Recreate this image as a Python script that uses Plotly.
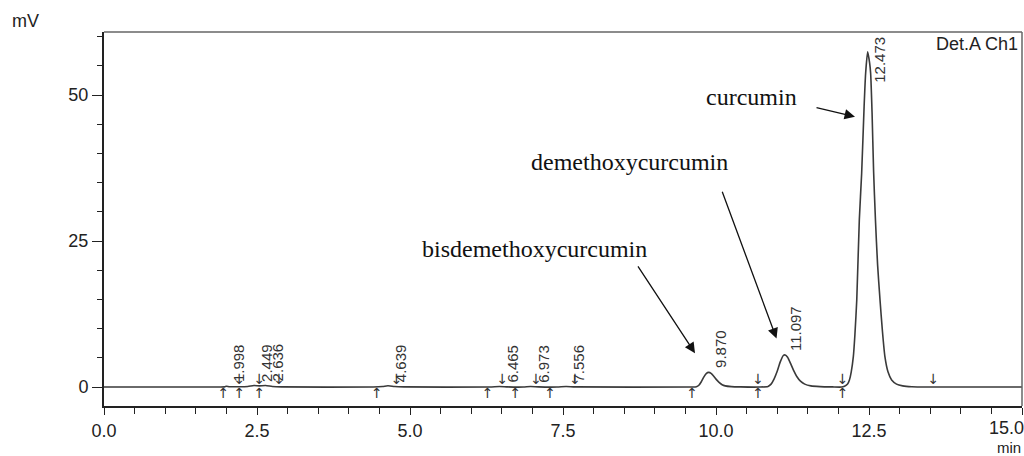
import plotly.graph_objects as go

# ---- chromatogram signal ----
time_min = [0.0, 1.90, 1.97, 2.00, 2.05, 2.20, 2.35, 2.45, 2.54, 2.64, 2.75, 2.90,
            4.40, 4.55, 4.64, 4.75, 4.90, 6.30, 6.46, 6.60, 6.85, 6.97, 7.10, 7.40,
            7.55, 7.70, 9.60, 9.68, 9.72, 9.76, 9.80, 9.84, 9.88, 9.92, 9.96, 10.00,
            10.05, 10.10, 10.15, 10.25, 10.40, 10.70, 10.85, 10.90, 10.95, 11.00,
            11.05, 11.10, 11.13, 11.17, 11.22, 11.27, 11.32, 11.38, 11.45, 11.55,
            11.70, 11.90, 12.05, 12.10, 12.15, 12.18, 12.21, 12.244, 12.27, 12.30,
            12.342, 12.38, 12.42, 12.445, 12.478, 12.51, 12.527, 12.55, 12.575,
            12.605, 12.64, 12.68, 12.72, 12.76, 12.81, 12.87, 12.95, 13.05, 13.20,
            13.50, 15.0]
signal_mv = [0.0, 0.0, 0.03, 0.12, 0.05, 0.05, 0.10, 0.25, 0.20, 0.25, 0.10, 0.03,
             0.0, 0.08, 0.22, 0.08, 0.02, 0.0, 0.10, 0.02, 0.0, 0.08, 0.02, 0.0,
             0.08, 0.02, 0.0, 0.05, 0.30, 0.90, 1.70, 2.30, 2.50, 2.35, 1.90, 1.35,
             0.80, 0.40, 0.20, 0.07, 0.02, 0.0, 0.10, 0.50, 1.40, 2.70,
             4.30, 5.40, 5.50, 5.10, 4.00, 2.80, 1.80, 1.00, 0.50, 0.20,
             0.07, 0.02, 0.0, 0.15, 0.50, 1.20, 2.60, 5.20, 9.0, 14.9,
             28.7, 36.6, 48.0, 53.7, 57.4, 55.5, 53.7, 47.0, 37.0,
             28.7, 21.0, 14.9, 9.5, 5.2, 2.6, 1.2, 0.5, 0.2, 0.05,
             0.01, 0.0]

# ---- peak retention-time labels ----
peak_rt = [1.998, 2.449, 2.636, 4.639, 6.465, 6.973, 7.556, 9.870, 11.097, 12.473]
peak_label = ["1.998", "2.449", "2.636", "4.639", "6.465", "6.973", "7.556",
              "9.870", "11.097", "12.473"]
peak_height = [0.12, 0.25, 0.25, 0.22, 0.10, 0.08, 0.08, 2.5, 5.5, 57.4]

# ---- integration start / end markers ----
up_marks = [1.95, 2.21, 2.54, 4.46, 6.27, 6.72, 7.29, 9.61, 10.69, 12.07]
down_marks = [2.21, 2.54, 2.86, 4.78, 6.51, 7.06, 7.70, 10.69, 12.07, 13.55]

# ---- compound annotations ----
compounds = ["bisdemethoxycurcumin", "demethoxycurcumin", "curcumin"]
compound_text_xy = [(7.037, 23.6), (8.58, 38.5), (10.583, 49.66)]
compound_arrow_tail = [(8.709, 20.9), (10.093, 33.7), (11.618, 47.9)]
compound_arrow_tip = [(9.657, 5.8), (10.989, 8.3), (12.271, 46.3)]

x_ticks = [0.0, 2.5, 5.0, 7.5, 10.0, 12.5, 15.0]
x_tick_text = ["0.0", "2.5", "5.0", "7.5", "10.0", "12.5", "15.0"]
y_ticks = [0, 25, 50]
y_tick_text = ["0", "25", "50"]

SANS = "Liberation Sans, Arial, sans-serif"
SERIF = "Liberation Serif, Times New Roman, serif"
LABEL_CAP = 51.4

# the last x tick label sits flush with the right edge, so it is drawn separately
axis_tick_text = x_tick_text[:-1] + [""]

fig = go.Figure()
fig.add_trace(go.Scatter(x=time_min, y=signal_mv, mode="lines",
                         line=dict(color="#3a3a3a", width=1.6, shape="spline", smoothing=0.6),
                         hoverinfo="skip", showlegend=False))
# integration start / end marks as arrow glyphs at the baseline
fig.add_trace(go.Scatter(x=up_marks, y=[0] * len(up_marks), mode="text",
                         text=["↑"] * len(up_marks), textposition="bottom center",
                         textfont=dict(family="DejaVu Sans", size=14, color="#333"),
                         showlegend=False, hoverinfo="skip"))
fig.add_trace(go.Scatter(x=down_marks, y=[0] * len(down_marks), mode="text",
                         text=["↓"] * len(down_marks), textposition="top center",
                         textfont=dict(family="DejaVu Sans", size=14, color="#333"),
                         showlegend=False, hoverinfo="skip"))

annotations = []
for rt, lab, h in zip(peak_rt, peak_label, peak_height):
    annotations.append(dict(x=rt, y=min(h, LABEL_CAP), xref="x", yref="y", text=lab,
                            textangle=-90, showarrow=False, xanchor="center",
                            yanchor="bottom", xshift=12.5, yshift=3, borderpad=0,
                            font=dict(family=SANS, size=15, color="#333")))
for name, (tx, ty), (ax_, ay_), (hx, hy) in zip(compounds, compound_text_xy,
                                                 compound_arrow_tail, compound_arrow_tip):
    annotations.append(dict(x=tx, y=ty, xref="x", yref="y", text=name, showarrow=False,
                            font=dict(family=SERIF, size=24, color="#111")))
    annotations.append(dict(x=hx, y=hy, ax=ax_, ay=ay_, xref="x", yref="y",
                            axref="x", ayref="y", text="", showarrow=True,
                            arrowhead=2, arrowsize=1.6, arrowwidth=1.3,
                            arrowcolor="#111", standoff=0, startstandoff=0))
annotations.append(dict(x=x_ticks[-1], y=0, xref="x", yref="paper", text=x_tick_text[-1],
                        showarrow=False, xanchor="right", yanchor="middle",
                        xshift=3, yshift=-22, borderpad=0,
                        font=dict(family=SANS, size=18, color="#222")))
annotations.append(dict(x=1, y=1, xref="paper", yref="paper", text="Det.A Ch1",
                        showarrow=False, xanchor="right", yanchor="top",
                        xshift=-2, yshift=0,
                        font=dict(family=SANS, size=18, color="#222")))
annotations.append(dict(x=0, y=1, xref="paper", yref="paper", text="mV",
                        showarrow=False, xanchor="center", yanchor="middle",
                        xshift=-79, yshift=11,
                        font=dict(family=SANS, size=18, color="#222")))
annotations.append(dict(x=1, y=0, xref="paper", yref="paper", text="min",
                        showarrow=False, xanchor="right", yanchor="middle",
                        xshift=0, yshift=-41, borderpad=0,
                        font=dict(family=SANS, size=15, color="#222")))

fig.update_layout(
    width=1024, height=456,
    margin=dict(l=104, r=2, t=32, b=50, autoexpand=False),
    paper_bgcolor="white", plot_bgcolor="white",
    annotations=annotations,
    shapes=[
        dict(type="line", xref="paper", yref="paper", x0=0, x1=1, y0=1, y1=1,
             line=dict(color="#666", width=1.5)),
        dict(type="line", xref="paper", yref="paper", x0=1, x1=1, y0=0, y1=1,
             line=dict(color="#666", width=1.5)),
    ],
    xaxis=dict(range=[0, 15], tickvals=x_ticks, ticktext=axis_tick_text,
               automargin=False,
               showgrid=False, zeroline=False, showline=True, linecolor="#222",
               linewidth=2, ticks="outside", ticklen=7, tickwidth=1.3, tickcolor="#222",
               tickfont=dict(family=SANS, size=18, color="#222"),
               minor=dict(dtick=0.5, tick0=0, ticks="outside", ticklen=6,
                          tickwidth=1.3, tickcolor="#222", showgrid=False)),
    yaxis=dict(range=[-3.25, 60.8], tickvals=y_ticks, ticktext=y_tick_text,
               automargin=False,
               showgrid=False, zeroline=False, showline=True, linecolor="#222",
               linewidth=2, ticks="outside", ticklen=10, tickwidth=1.3, tickcolor="#222",
               tickfont=dict(family=SANS, size=18, color="#222"),
               minor=dict(dtick=5, tick0=0, ticks="outside", ticklen=5,
                          tickwidth=1.3, tickcolor="#222", showgrid=False)),
)

fig.write_html("out.html")
